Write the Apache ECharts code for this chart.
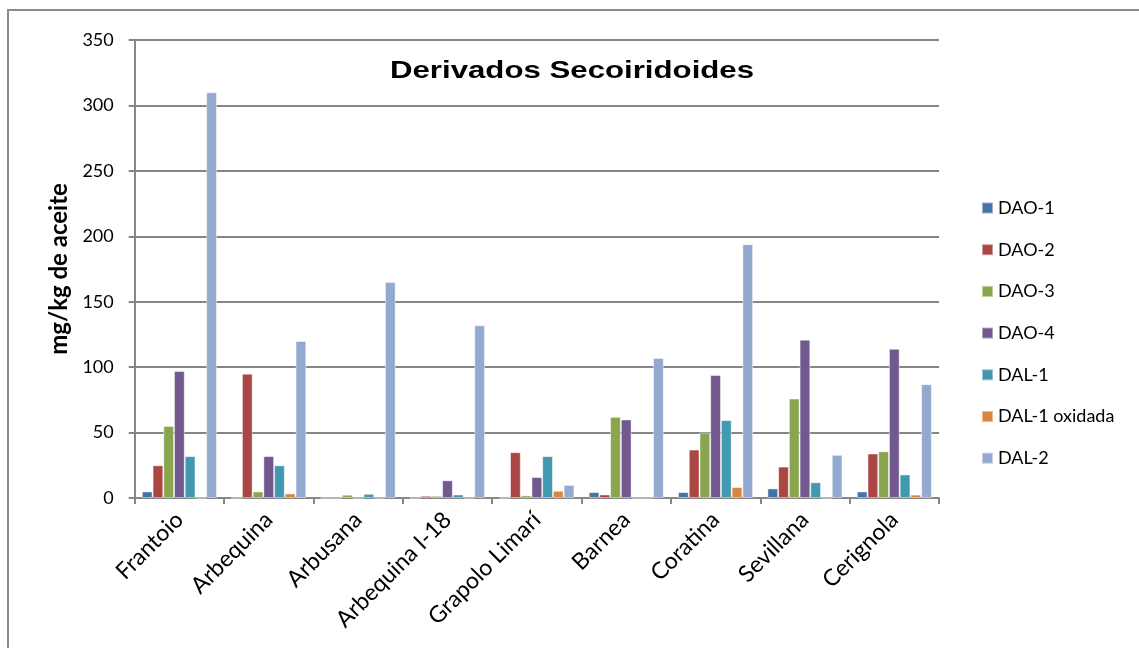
<!DOCTYPE html>
<html>
<head>
<meta charset="utf-8">
<script src="https://cdn.jsdelivr.net/npm/echarts@6/dist/echarts.min.js"></script>
<style>
  html, body { margin: 0; padding: 0; background: #fff; }
  #chart { width: 1139px; height: 648px; }
</style>
</head>
<body>
<div id="chart"></div>
<script>
// Olive varieties on the category axis
const categories = ['Frantoio', 'Arbequina', 'Arbusana', 'Arbequina I-18', 'Grapolo Limarí',
                    'Barnea', 'Coratina', 'Sevillana', 'Cerignola'];

// Secoiridoid derivatives, mg/kg of oil
const dao1      = [5, 0, 0, 0, 0, 4.5, 4.5, 7.3, 5];
const dao2      = [25, 95, 0, 1.7, 35, 2.7, 37, 24, 34];
const dao3      = [55, 5, 2.5, 1.7, 2, 62, 50, 76, 35.7];
const dao4      = [97, 32, 0, 13.5, 16, 60, 94, 121, 114];
const dal1      = [32, 25, 3.2, 2.7, 32, 0, 59.5, 12, 18];
const dal1Oxid  = [0, 3.5, 0, 0, 5.5, 0, 8.3, 0, 2.6];
const dal2      = [310, 120, 165, 132, 10, 107, 194, 33, 87];

const yTicks = { min: 0, max: 350, interval: 50 };

const chartTitle = 'Derivados Secoiridoides';
const yAxisTitle = 'mg/kg de aceite';

const seriesDefs = [
  { name: 'DAO-1', data: dao1, color: '#4572A7' },
  { name: 'DAO-2', data: dao2, color: '#AA4643' },
  { name: 'DAO-3', data: dao3, color: '#89A54E' },
  { name: 'DAO-4', data: dao4, color: '#71588F' },
  { name: 'DAL-1', data: dal1, color: '#4198AF' },
  { name: 'DAL-1 oxidada', data: dal1Oxid, color: '#DB843D' },
  { name: 'DAL-2', data: dal2, color: '#93A9CF' }
];

const chart = echarts.init(document.getElementById('chart'), null, { renderer: 'canvas' });

chart.setOption({
  animation: false,
  backgroundColor: '#fff',
  legend: {
    orient: 'vertical',
    left: 981,
    top: 199,
    padding: 0,
    itemWidth: 11,
    itemHeight: 11,
    itemGap: 23.7,
    icon: 'rect',
    textStyle: { fontFamily: 'Lato, sans-serif', fontSize: 18, color: '#000', lineHeight: 16 },
    data: seriesDefs.map(s => s.name)
  },
  grid: { left: 134.7, right: 200, top: 40, bottom: 150, containLabel: false },
  xAxis: {
    type: 'category',
    data: categories,
    axisLine: { lineStyle: { color: '#868686', width: 2 } },
    axisTick: { show: true, length: 6, lineStyle: { color: '#868686', width: 2 } },
    axisLabel: {
      rotate: 45, interval: 0, margin: 18,
      fontFamily: 'Lato, sans-serif', fontSize: 23, color: '#000'
    }
  },
  yAxis: {
    type: 'value',
    min: yTicks.min, max: yTicks.max, interval: yTicks.interval,
    name: yAxisTitle,
    nameLocation: 'middle',
    nameGap: 62,
    nameRotate: 90,
    nameTextStyle: { fontFamily: 'Lato, sans-serif', fontWeight: 'bold', fontSize: 24, color: '#000' },
    axisLine: { show: true, lineStyle: { color: '#868686', width: 2 } },
    axisTick: { show: true, length: 6, lineStyle: { color: '#868686', width: 2 } },
    axisLabel: { margin: 21, fontFamily: 'Lato, sans-serif', fontSize: 18, color: '#000' },
    splitLine: { show: true, lineStyle: { color: '#868686', width: 2 } }
  },
  series: seriesDefs.map(s => ({
    name: s.name,
    type: 'bar',
    data: s.data,
    barGap: '0%',
    barCategoryGap: '16%',
    itemStyle: { color: s.color, borderColor: 'rgba(255,255,255,0.45)', borderWidth: 1 }
  })),
  graphic: [
    {
      // chart title, set in a wide bold face inside the plot area
      type: 'text',
      x: 572,
      y: 71,
      scaleX: 1.3,
      silent: true,
      z: 50,
      style: {
        text: chartTitle,
        x: 0,
        y: 0,
        align: 'center',
        verticalAlign: 'middle',
        font: 'bold 24px "Liberation Sans", Arial, sans-serif',
        fill: '#000'
      }
    },
    {
      // outer frame of the chart
      type: 'rect',
      shape: { x: 8, y: 10, width: 1160, height: 700 },
      style: { fill: 'none', stroke: '#8a8a8a', lineWidth: 2 },
      silent: true,
      z: 100
    }
  ]
});
</script>
</body>
</html>
